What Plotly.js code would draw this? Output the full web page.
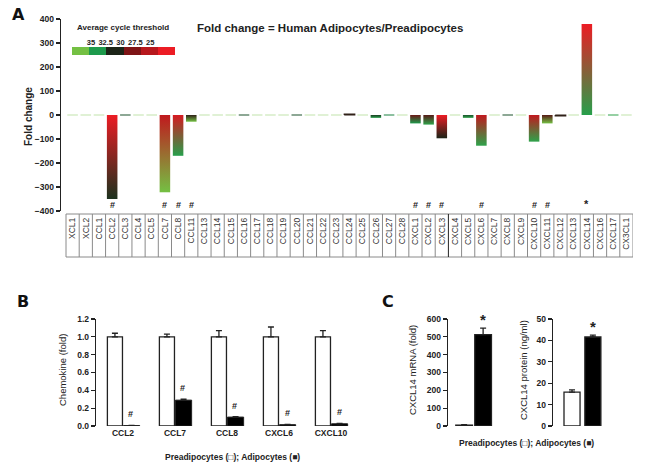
<!DOCTYPE html>
<html>
<head>
<meta charset="utf-8">
<script src="https://cdn.plot.ly/plotly-3.0.1.min.js"></script>
<style>
  html, body { margin: 0; padding: 0; background: #fff; }
  #chart { width: 665px; height: 466px; }
</style>
</head>
<body>
<div id="chart"></div>
<script>
// Panel A - chemokine array, fold change adipocytes / preadipocytes
const genes = ['XCL1','XCL2','CCL1','CCL2','CCL3','CCL4','CCL5','CCL7','CCL8','CCL11',
  'CCL13','CCL14','CCL15','CCL16','CCL17','CCL18','CCL19','CCL20','CCL21','CCL22',
  'CCL23','CCL24','CCL25','CCL26','CCL27','CCL28','CXCL1','CXCL2','CXCL3','CXCL4',
  'CXCL5','CXCL6','CXCL7','CXCL8','CXCL9','CXCL10','CXCL11','CXCL12','CXCL13','CXCL14',
  'CXCL16','CXCL17','CX3CL1'];
const foldChange = [-3,-3,-3,-350,3,-3,-3,-322,-170,-28,
  -3,-3,-3,-3,-3,-3,-3,-3,-3,-3,
  -3,4,-3,-12,-3,-3,-35,-40,-97,-3,
  -12,-128,-3,-3,-3,-111,-35,-4,-3,379,
  -3,3,-3];
// average cycle threshold, preadipocytes (bar base) and adipocytes (bar end)
const ctPre = [35,35,35,25,31,35,35,26,25.5,29.5,
  35,35,35,31,35,35,35,31,35,35,
  35,29.5,35,30.5,32,35,28,28.5,25,35,
  31,26,35,31,35,26,28.5,29.5,35,32.8,
  35,33,35];
const ctAdi = [35,35,35,30.3,31,35,35,35,32.8,35,
  35,35,35,31,35,35,35,31,35,35,
  35,29.5,35,32.8,32,35,32.5,33,30,35,
  33,33,35,31,35,33,35,29.5,35,25,
  35,33,35];
const sigA = ['','','','#','','','','#','#','#',
  '','','','','','','','','','',
  '','','','','','','#','#','#','',
  '','#','','','','#','#','','','*',
  '','',''];
const ctTicks = [35, 32.5, 30, 27.5, 25];
const ctLegend = [35, 32.5, 30, 27.5, 26.2, 25];

// Panel B - qPCR validation
const bGenes = ['CCL2','CCL7','CCL8','CXCL6','CXCL10'];
const bPre = [1, 1, 1, 1, 1];
const bPreErr = [0.04, 0.03, 0.07, 0.11, 0.07];
const bAdi = [0.005, 0.29, 0.10, 0.015, 0.025];
const bAdiErr = [0.003, 0.01, 0.005, 0.003, 0.004];

// Panel C - CXCL14 mRNA and protein
const cGroups = ['Preadipocytes', 'Adipocytes'];
const cMrna = [5, 512];
const cMrnaErr = [3, 37];
const cProtein = [15.8, 41.6];
const cProteinErr = [1.1, 0.9];
const cSig = ['', '*'];

const W = 665, H = 466;
const px = v => v / W;
const py = v => 1 - v / H;
const FONT = 'Liberation Sans, Arial, sans-serif';
const INK = '#222';

const ctStops = [[25,[236,28,36]],[27.5,[126,20,22]],[30,[28,36,24]],[32.5,[29,154,76]],[35,[116,192,67]]];
function ctColor(ct) {
  let c = Math.max(25, Math.min(35, ct));
  for (let k = 0; k < ctStops.length - 1; k++) {
    let a = ctStops[k], b = ctStops[k+1];
    if (c >= a[0] && c <= b[0]) {
      let t = (c - a[0]) / (b[0] - a[0]);
      let rgb = a[1].map((v, j) => Math.round(v + (b[1][j] - v) * t));
      return 'rgb(' + rgb.join(',') + ')';
    }
  }
  return 'rgb(116,192,67)';
}

let data = [];

// A: gradient bars
genes.forEach(function(g, i) {
  let v = foldChange[i];
  let cBase = ctColor(ctPre[i]), cEnd = ctColor(ctAdi[i]);
  let low = v < 0 ? cEnd : cBase;
  let high = v < 0 ? cBase : cEnd;
  let tiny = Math.abs(v) < 8;
  data.push({
    type: 'scatter', mode: 'lines',
    x: [i - 0.4, i + 0.4, i + 0.4, i - 0.4, i - 0.4],
    y: [0, 0, v, v, 0],
    fill: 'toself',
    fillgradient: {type: 'vertical', colorscale: [[0, low], [1, high]]},
    line: {width: tiny ? 1.2 : 0, color: high},
    opacity: tiny && ctPre[i] >= 35 ? 0.45 : 1,
    hoverinfo: 'skip', showlegend: false, xaxis: 'x', yaxis: 'y'
  });
});

// A: Ct legend
let legendScale = ctStops.map(s => [(s[0] - 25) / 10, ctColor(s[0])]);
data.push({
  type: 'heatmap', z: [ctLegend], x0: 36.75, dx: -2.9, y: [0],
  zmin: 25, zmax: 35, colorscale: legendScale, showscale: false,
  hoverinfo: 'skip', xaxis: 'x5', yaxis: 'y5'
});

// B
data.push({
  type: 'bar', x: bGenes, y: bPre, offset: -0.3, width: 0.29,
  marker: {color: '#fff', line: {color: INK, width: 1.3}},
  error_y: {type: 'data', array: bPreErr, arrayminus: bPre.map(() => 0), symmetric: false,
    color: INK, thickness: 1.3, width: 3},
  hoverinfo: 'skip', showlegend: false, xaxis: 'x2', yaxis: 'y2'
});
data.push({
  type: 'bar', x: bGenes, y: bAdi, offset: 0.01, width: 0.31,
  marker: {color: '#000', line: {color: INK, width: 1}},
  error_y: {type: 'data', array: bAdiErr, arrayminus: bAdi.map(() => 0), symmetric: false,
    color: INK, thickness: 1.3, width: 3},
  hoverinfo: 'skip', showlegend: false, xaxis: 'x2', yaxis: 'y2'
});

// C
data.push({
  type: 'bar', x: cGroups, y: cMrna, width: 0.88,
  marker: {color: ['#fff', '#000'], line: {color: INK, width: 1.3}},
  error_y: {type: 'data', array: cMrnaErr, arrayminus: [0, 0], symmetric: false,
    color: INK, thickness: 1.3, width: 3},
  hoverinfo: 'skip', showlegend: false, xaxis: 'x3', yaxis: 'y3'
});
data.push({
  type: 'bar', x: cGroups, y: cProtein, width: 0.77,
  marker: {color: ['#fff', '#000'], line: {color: INK, width: 1.3}},
  error_y: {type: 'data', array: cProteinErr, arrayminus: [0, 0], symmetric: false,
    color: INK, thickness: 1.3, width: 3},
  hoverinfo: 'skip', showlegend: false, xaxis: 'x4', yaxis: 'y4'
});

// table cells under panel A
let shapes = [{
  type: 'rect', xref: 'x', yref: 'paper', x0: -0.5, x1: genes.length - 0.5,
  y0: py(257), y1: py(214), line: {color: '#8a8a8a', width: 1}
}];
for (let i = 0; i < genes.length - 1; i++) {
  shapes.push({
    type: 'line', xref: 'x', yref: 'paper', x0: i + 0.5, x1: i + 0.5,
    y0: py(257), y1: py(214),
    line: {color: genes[i] === 'CXCL3' ? '#222' : '#8a8a8a', width: 1}
  });
}

let ann = [];
function label(text, x, y, size, opts) {
  ann.push(Object.assign({
    text: text, x: px(x), y: py(y), xref: 'paper', yref: 'paper',
    showarrow: false, xanchor: 'center', yanchor: 'middle',
    font: {family: FONT, size: size, color: INK, weight: 'bold'}
  }, opts || {}));
}
label('A', 18, 14, 17, {font: {family: 'DejaVu Sans, sans-serif', size: 16, color: '#111', weight: 'bold'}});
label('B', 23, 301, 17, {font: {family: 'DejaVu Sans, sans-serif', size: 16, color: '#111', weight: 'bold'}});
label('C', 388, 301, 17, {font: {family: 'DejaVu Sans, sans-serif', size: 16, color: '#111', weight: 'bold'}});
label('Fold change = Human Adipocytes/Preadipocytes', 330, 28, 11.5);
label('Average cycle threshold', 123, 28, 8);
label('Fold change', 28, 117, 10, {textangle: -90});
label('Chemokine (fold)', 62, 370, 9.5, {textangle: -90, font: {family: FONT, size: 9.5, color: INK}});
label('CXCL14 mRNA (fold)', 412, 370, 9.5, {textangle: -90, font: {family: FONT, size: 9.5, color: INK}});
label('CXCL14 protein (ng/ml)', 523, 370, 9.5, {textangle: -90, font: {family: FONT, size: 9.5, color: INK}});
label('Preadipocytes (\u25A1); Adipocytes (\u25A0)', 232, 457, 8.5);
label('Preadipocytes (\u25A1); Adipocytes (\u25A0)', 526, 443, 8.5);

genes.forEach(function(g, i) {
  if (sigA[i]) ann.push({text: sigA[i], x: i, y: -400, xref: 'x', yref: 'y', yanchor: 'bottom',
    showarrow: false, yshift: -1, font: {family: FONT, size: sigA[i] === '*' ? 11 : 9, color: INK, weight: 'bold'}});
});
bGenes.forEach(function(g, i) {
  ann.push({text: '#', x: i, xshift: 8, y: bAdi[i] + bAdiErr[i], xref: 'x2', yref: 'y2', yanchor: 'bottom',
    showarrow: false, yshift: 4, font: {family: FONT, size: 9, color: INK, weight: 'bold'}});
});
cGroups.forEach(function(g, i) {
  if (!cSig[i]) return;
  ann.push({text: cSig[i], x: g, y: cMrna[i] + cMrnaErr[i], xref: 'x3', yref: 'y3', yanchor: 'bottom',
    showarrow: false, yshift: -2, font: {family: FONT, size: 15, color: INK, weight: 'bold'}});
  ann.push({text: cSig[i], x: g, y: cProtein[i] + cProteinErr[i], xref: 'x4', yref: 'y4', yanchor: 'bottom',
    showarrow: false, yshift: -2, font: {family: FONT, size: 15, color: INK, weight: 'bold'}});
});

const tickFont = {family: FONT, size: 8.5, color: INK, weight: 'bold'};
const yAxisBase = {showline: true, linecolor: INK, linewidth: 1.3, ticks: 'outside', ticklen: 4,
  tickcolor: INK, tickwidth: 1.3, showgrid: false, zeroline: false, tickfont: tickFont, fixedrange: true};
const xHidden = {showline: false, showgrid: false, zeroline: false, ticks: '', fixedrange: true};

let layout = {
  width: W, height: H,
  margin: {l: 0, r: 0, t: 0, b: 0},
  paper_bgcolor: '#fff', plot_bgcolor: 'rgba(0,0,0,0)',
  showlegend: false,
  barmode: 'overlay',
  xaxis: Object.assign({}, xHidden, {domain: [px(61), px(633)], range: [-0.88, 42.5], anchor: 'y',
    tickmode: 'array', tickvals: genes.map((g, i) => i), ticktext: genes, tickangle: -90,
    ticklabelstandoff: 4,
    tickfont: {family: FONT, size: 8.5, color: '#333'}}),
  yaxis: Object.assign({}, yAxisBase, {domain: [py(211), py(19)], range: [-400, 400], dtick: 100, anchor: 'x'}),
  xaxis2: Object.assign({}, xHidden, {domain: [px(96), px(357)], range: [-0.519, 4.5], anchor: 'y2',
    tickfont: {family: FONT, size: 8.5, color: INK, weight: 'bold'}}),
  yaxis2: Object.assign({}, yAxisBase, {domain: [py(426), py(319)], range: [0, 1.2], dtick: 0.2,
    tickformat: '.1f', anchor: 'x2'}),
  xaxis3: Object.assign({}, xHidden, {domain: [px(448), px(500)], range: [-0.85, 1.89], anchor: 'y3',
    showticklabels: false}),
  yaxis3: Object.assign({}, yAxisBase, {domain: [py(426), py(319)], range: [0, 600], dtick: 100, anchor: 'x3'}),
  xaxis4: Object.assign({}, xHidden, {domain: [px(553), px(606)], range: [-0.913, 1.63], anchor: 'y4',
    showticklabels: false}),
  yaxis4: Object.assign({}, yAxisBase, {domain: [py(426), py(319)], range: [0, 50], dtick: 10, anchor: 'x4'}),
  xaxis5: Object.assign({}, xHidden, {domain: [px(72), px(175)], range: [38.2, 20.8], anchor: 'y5',
    side: 'top', tickmode: 'array', tickvals: ctTicks, ticktext: ctTicks.map(String),
    tickfont: {family: FONT, size: 7.5, color: INK, weight: 'bold'}}),
  yaxis5: Object.assign({}, xHidden, {domain: [py(55), py(47)], range: [-0.5, 0.5], anchor: 'x5',
    showticklabels: false}),
  shapes: shapes,
  annotations: ann
};

Plotly.newPlot('chart', data, layout, {staticPlot: true, displayModeBar: false});
</script>
</body>
</html>
